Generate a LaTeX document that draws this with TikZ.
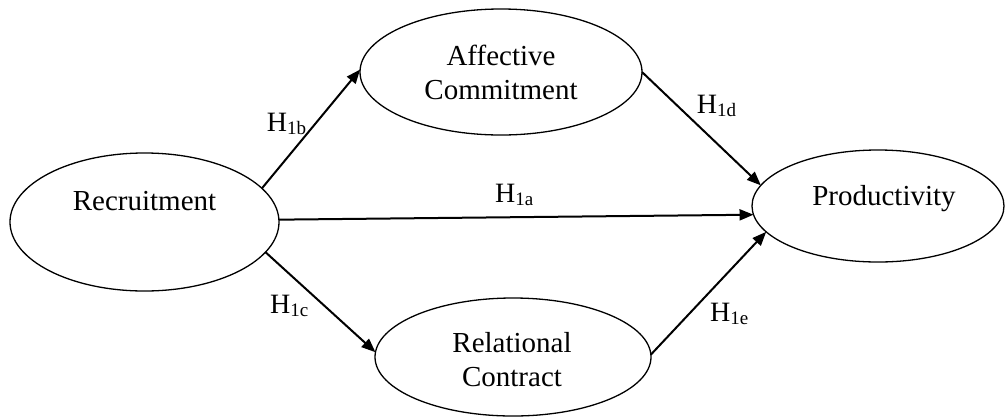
\documentclass[tikz,border=0pt]{standalone}
\usepackage{fontspec}
\setmainfont{Liberation Serif}
\usetikzlibrary{shapes.geometric,arrows.meta}
\newcommand{\Hs}[1]{H\raisebox{-3pt}{\fontsize{19}{19}\selectfont #1}}
\tikzset{
  ell/.style={draw, ellipse, line width=1.3pt, inner sep=0pt, outer sep=0pt},
  ttext/.style={inner sep=0pt, anchor=base, font=\fontsize{29}{34}\selectfont},
  hlabel/.style={inner sep=0pt, anchor=base west, font=\fontsize{28}{30}\selectfont},
  conn/.style={line width=2pt, -{Triangle[length=14pt,width=11pt]}}
}
\begin{document}
\begin{tikzpicture}[x=1pt,y=-1pt]
\useasboundingbox (0,0) rectangle (1006,416);
% ellipses
\node[ell, minimum width=269pt, minimum height=138pt] (rec) at (144.5,222) {};
\node[ell, minimum width=282pt, minimum height=126pt] (aff) at (501,72) {};
\node[ell, minimum width=252pt, minimum height=112pt] (prod) at (878,206) {};
\node[ell, minimum width=276pt, minimum height=118pt] (rel) at (513,357) {};
% texts
\node[ttext] (recT) at (144.5,210.7) {Recruitment};
\node[ttext] (affT1) at (501,65) {Affective};
\node[ttext] (affT2) at (501,99.3) {Commitment};
\node[ttext] (prodT) at (884,205) {Productivity};
\node[ttext] (relT1) at (512,352.7) {Relational};
\node[ttext] (relT2) at (512,386) {Contract};
% connectors
\draw[conn] (rec.16.5) -- (aff.179.6);
\draw[conn] (rec.1.1) -- (prod.184.4);
\draw[conn] (rec.-14) -- (rel.178.3);
\draw[conn] (aff.0.8) -- (prod.170.1);
\draw[conn] (rel.1.7) -- (prod.193.8);
% labels
\node[hlabel] (h1b) at (266.7,131.7) {\Hs{1b}};
\node[hlabel] (h1a) at (495,202) {\Hs{1a}};
\node[hlabel] (h1c) at (270,313.3) {\Hs{1c}};
\node[hlabel] (h1d) at (696.7,113.3) {\Hs{1d}};
\node[hlabel] (h1e) at (710,321.7) {\Hs{1e}};
\end{tikzpicture}
\end{document}
